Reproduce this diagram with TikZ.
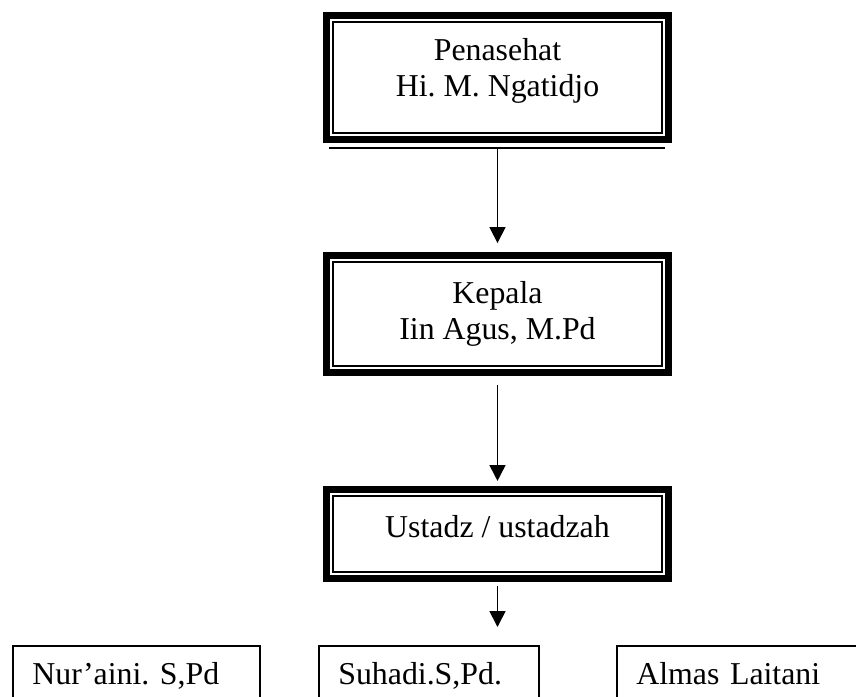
\documentclass[tikz,border=0pt]{standalone}
\usepackage{fontspec}
\setmainfont{Liberation Serif}
\usetikzlibrary{arrows.meta}
\frenchspacing

\begin{document}
\begin{tikzpicture}[x=0.377pt,y=-0.377pt,
  kotak/.style={draw,line width=2.65pt,inner sep=0pt,outer sep=0pt,minimum width=128.9pt,
    align=center,font=\fontsize{12}{13.8}\selectfont},
  anggota/.style={draw,line width=0.65pt,anchor=north west,outer sep=0pt,inner xsep=7.3pt,
    inner ysep=6.5pt,align=left,text height=8.2pt,text depth=2.6pt,font=\fontsize{12}{13.8}\selectfont},
  panah/.style={-{Triangle[width=6pt,length=6pt]},line width=0.65pt}]
  \clip (0,0) rectangle (856,697);
  % struktur pimpinan
  \node[kotak,minimum height=46.7pt,text depth=7.5pt] (penasehat) at (497.5,77.5) {Penasehat\\Hi. M. Ngatidjo};
  \node[kotak,minimum height=44.1pt] (kepala) at (497.5,314) {Kepala\\Iin Agus, M.Pd};
  \node[kotak,minimum height=33.6pt,text height=8.2pt,text depth=5.2pt] (ustadz) at (497.5,534) {Ustadz / ustadzah};
  \foreach \n in {penasehat,kepala,ustadz}
    \draw[line width=0.6pt] ([shift={(2.45pt,-2.45pt)}]\n.north west) rectangle ([shift={(-2.45pt,2.45pt)}]\n.south east);
  \coordinate (garisKiri) at (329,148);
  \coordinate (garisKanan) at (665,148);
  \draw[line width=0.8pt] (garisKiri) -- (garisKanan);
  % pengajar
  \node[anggota,text width=78.5pt] (nuraini) at (13,646) {Nur’aini. S,Pd};
  \node[anggota,text width=68.3pt] (suhadi) at (319,646) {Suhadi.S,Pd.};
  \node[anggota,text width=83.4pt] (almas) at (617,646) {Almas Laitani};
  \coordinate (ujung) at (497.5,627);
  % panah
  \draw[panah,shorten >=4.7pt] (garisKiri -| penasehat.south) -- (kepala.north);
  \draw[panah,shorten <=4.7pt,shorten >=3.2pt] (kepala.south) -- (ustadz.north);
  \draw[panah,shorten <=2.8pt] (ustadz.south) -- (ujung);
\end{tikzpicture}
\end{document}
